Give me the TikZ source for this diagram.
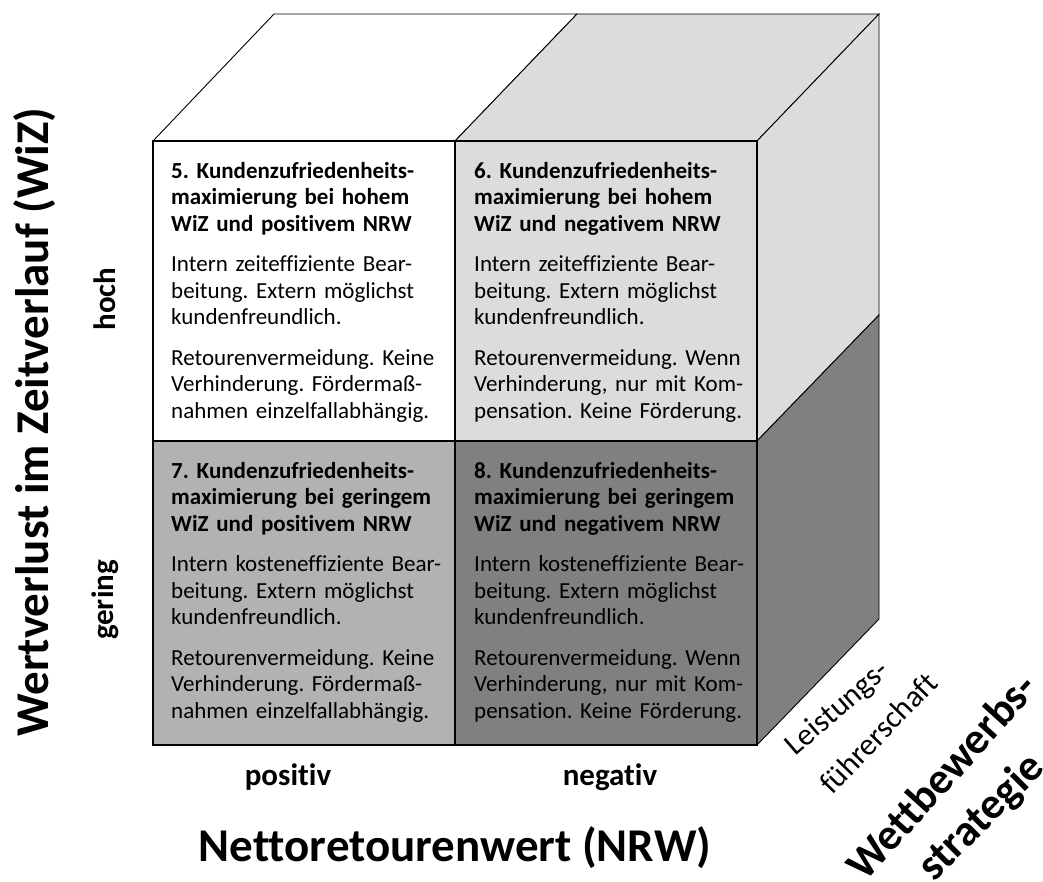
\documentclass[tikz,border=0pt]{standalone}
\usepackage{fontspec}
\setmainfont{Carlito}[Ligatures=NoCommon]
\usepackage{tikz}
\usetikzlibrary{positioning}
\definecolor{cubelight}{HTML}{DCDCDC}
\definecolor{cubemid}{HTML}{B2B2B2}
\definecolor{cubedark}{HTML}{808080}
\frenchspacing

\begin{document}
\begin{tikzpicture}[x=1pt, y=-1pt,
    face/.style={draw=black, line width=0.9pt, line join=miter},
    frontcell/.style={draw=black, line width=1.8pt},
    celltext/.style={anchor=north west, inner sep=0pt, text width=290pt,
                     align=left, font=\fontsize{23}{26.5}\selectfont},
    axislabel/.style={font=\fontsize{47}{50}\selectfont\bfseries},
    ticklabel/.style={font=\fontsize{31}{32}\selectfont\bfseries},
    strategylabel/.style={font=\fontsize{31}{32}\selectfont},
    strategyhead/.style={font=\fontsize{44}{44}\selectfont\bfseries}
  ]
  \useasboundingbox (0,0) rectangle (1043,881);

  % top face
  \filldraw[face, fill=white] (153,141) -- (274,14) -- (577,14) -- (455,141) -- cycle;
  \filldraw[face, fill=cubelight] (455,141) -- (577,14) -- (879,14) -- (757,141) -- cycle;

  % right face
  \filldraw[face, fill=cubelight] (757,141) -- (879,14) -- (879,315) -- (757,441) -- cycle;
  \filldraw[face, fill=cubedark] (757,441) -- (879,315) -- (879,619) -- (757,745) -- cycle;

  % front face
  \filldraw[frontcell, fill=white] (153,141) rectangle (455,441);
  \filldraw[frontcell, fill=cubelight] (455,141) rectangle (757,441);
  \filldraw[frontcell, fill=cubemid] (153,441) rectangle (455,745);
  \filldraw[frontcell, fill=cubedark] (455,441) rectangle (757,745);

  \node[celltext] (q5) at (171,162) {%
    \textbf{5. Kundenzufriedenheits-}\\
    \textbf{maximierung bei hohem}\\
    \textbf{WiZ und positivem NRW}\\[14pt]
    Intern zeiteffiziente Bear-\\
    beitung. Extern möglichst\\
    kundenfreundlich.\\[14pt]
    Retourenvermeidung. Keine\\
    Verhinderung. Fördermaß-\\
    nahmen einzelfallabhängig.};
  \node[celltext] (q6) at (474,162) {%
    \textbf{6. Kundenzufriedenheits-}\\
    \textbf{maximierung bei hohem}\\
    \textbf{WiZ und negativem NRW}\\[14pt]
    Intern zeiteffiziente Bear-\\
    beitung. Extern möglichst\\
    kundenfreundlich.\\[14pt]
    Retourenvermeidung. Wenn\\
    Verhinderung, nur mit Kom-\\
    pensation. Keine Förderung.};
  \node[celltext] (q7) at (171,462) {%
    \textbf{7. Kundenzufriedenheits-}\\
    \textbf{maximierung bei geringem}\\
    \textbf{WiZ und positivem NRW}\\[14pt]
    Intern kosteneffiziente Bear-\\
    beitung. Extern möglichst\\
    kundenfreundlich.\\[14pt]
    Retourenvermeidung. Keine\\
    Verhinderung. Fördermaß-\\
    nahmen einzelfallabhängig.};
  \node[celltext] (q8) at (474,462) {%
    \textbf{8. Kundenzufriedenheits-}\\
    \textbf{maximierung bei geringem}\\
    \textbf{WiZ und negativem NRW}\\[14pt]
    Intern kosteneffiziente Bear-\\
    beitung. Extern möglichst\\
    kundenfreundlich.\\[14pt]
    Retourenvermeidung. Wenn\\
    Verhinderung, nur mit Kom-\\
    pensation. Keine Förderung.};

  % axes
  \node[axislabel, rotate=90] (wiz) at (35,422) {Wertverlust im Zeitverlauf (WiZ)};
  \node[ticklabel, rotate=90] (hoch) at (105,299) {hoch};
  \node[ticklabel, rotate=90] (gering) at (105,600) {gering};
  \node[ticklabel] (positiv) at (288,777) {positiv};
  \node[ticklabel] (negativ) at (610,777) {negativ};
  \node[axislabel] (nrw) at (455,848) {Nettoretourenwert (NRW)};

  % strategy
  \node[strategylabel, rotate=41] (leistung) at (838,709) {Leistungs-};
  \node[strategylabel, rotate=46] (fuehrung) at (878,733) {führerschaft};
  \node[strategyhead, rotate=48] (wettbewerb) at (941,776) {Wettbewerbs-};
  \node[strategyhead, rotate=45] (strategie) at (982,818) {strategie};
\end{tikzpicture}
\end{document}
